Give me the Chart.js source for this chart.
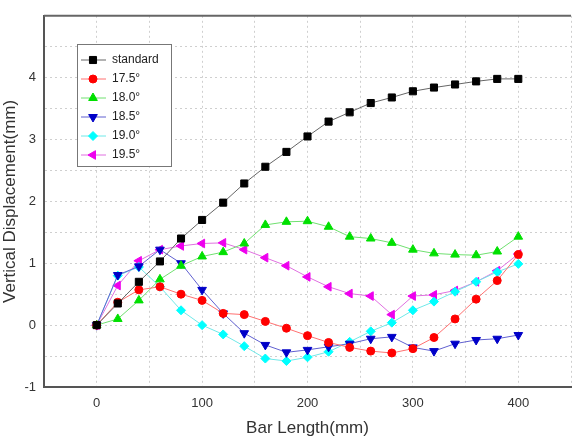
<!DOCTYPE html>
<html>
<head>
<meta charset="utf-8">
<script src="https://cdn.jsdelivr.net/npm/chart.js@4/dist/chart.umd.min.js"></script>
<style>
  html, body { margin: 0; padding: 0; background: #fff; overflow: hidden; }
  #wrap { width: 580px; height: 439px; }
</style>
</head>
<body>
<div id="wrap"><canvas id="grafico" width="580" height="439"></canvas></div>
<script>
// bar length (mm)
var barLength = [0, 20, 40, 60, 80, 100, 120, 140, 160, 180, 200, 220, 240, 260, 280, 300, 320, 340, 360, 380, 400];

// vertical displacement (mm)
var standard = [0, 0.35, 0.70, 1.03, 1.40, 1.70, 1.98, 2.29, 2.56, 2.80, 3.05, 3.29, 3.44, 3.59, 3.68, 3.78, 3.84, 3.89, 3.94, 3.98, 3.98];
var ang175 = [0, 0.37, 0.57, 0.62, 0.50, 0.40, 0.19, 0.17, 0.06, -0.05, -0.17, -0.28, -0.36, -0.42, -0.45, -0.38, -0.20, 0.10, 0.42, 0.72, 1.14];
var ang180 = [0, 0.10, 0.40, 0.74, 0.96, 1.11, 1.18, 1.32, 1.62, 1.67, 1.68, 1.59, 1.43, 1.40, 1.33, 1.22, 1.16, 1.14, 1.13, 1.19, 1.43];
var ang185 = [0, 0.81, 0.95, 1.22, 1.00, 0.57, 0.19, -0.13, -0.32, -0.44, -0.40, -0.35, -0.30, -0.22, -0.19, -0.36, -0.42, -0.30, -0.24, -0.22, -0.16];
var ang190 = [0, 0.80, 0.94, 0.62, 0.24, 0.00, -0.15, -0.34, -0.54, -0.58, -0.52, -0.43, -0.27, -0.10, 0.04, 0.24, 0.38, 0.54, 0.70, 0.86, 0.99];
var ang195 = [0, 0.64, 1.04, 1.22, 1.28, 1.32, 1.33, 1.22, 1.09, 0.96, 0.78, 0.62, 0.51, 0.47, 0.17, 0.47, 0.49, 0.56, 0.70, 0.88, 1.15];

var xTicks = [0, 100, 200, 300, 400];
var yTicks = [-1, 0, 1, 2, 3, 4];

function pontos(valores) {
    return valores.map((v, i) => ({ x: barLength[i], y: v }));
}

function serie(label, valores, cor, corLinha, estilo, rot, raio) {
    return {
        label: label,
        data: pontos(valores),
        borderColor: corLinha,
        borderWidth: 1,
        backgroundColor: cor,
        pointBackgroundColor: cor,
        pointBorderColor: cor,
        pointBorderWidth: 1,
        pointStyle: estilo,
        pointRotation: rot,
        pointRadius: raio,
        tension: 0
    };
}

var fonte = "Arial, 'Liberation Sans', sans-serif";

// legend box inside the plot + top frame line
var legendaBox = {
    id: 'legendaBox',
    afterDraw(chart) {
        var ctx = chart.ctx;
        var area = chart.chartArea;
        ctx.save();
        ctx.strokeStyle = '#666';
        ctx.lineWidth = 2;
        ctx.beginPath();
        ctx.moveTo(area.left, area.top);
        ctx.lineTo(area.right, area.top);
        ctx.stroke();

        var x0 = 77, y0 = 44, w = 94, h = 122;
        ctx.fillStyle = '#fff';
        ctx.fillRect(x0, y0, w, h);
        ctx.strokeStyle = '#777';
        ctx.lineWidth = 1;
        ctx.strokeRect(x0 + 0.5, y0 + 0.5, w, h);

        ctx.font = '12px ' + fonte;
        ctx.textBaseline = 'middle';
        chart.data.datasets.forEach((ds, i) => {
            var y = 60 + i * 19;
            ctx.strokeStyle = ds.borderColor;
            ctx.lineWidth = 1;
            ctx.beginPath();
            ctx.moveTo(81, y);
            ctx.lineTo(106, y);
            ctx.stroke();
            ctx.fillStyle = ds.pointBackgroundColor;
            ctx.strokeStyle = ds.pointBorderColor;
            Chart.helpers.drawPoint(ctx, {
                pointStyle: ds.pointStyle,
                rotation: ds.pointRotation,
                radius: ds.pointRadius,
                borderWidth: 1
            }, 93, y);
            ctx.fillStyle = '#222';
            ctx.fillText(ds.label, 112, y);
        });
        ctx.restore();
    }
};

var grafico = new Chart(document.getElementById('grafico').getContext('2d'), {
    type: 'line',
    data: {
        datasets: [
            serie('standard', standard, '#000000', '#666666', 'rect', 0, 5),
            serie('17.5°', ang175, '#ff0000', '#ff7070', 'circle', 0, 4),
            serie('18.0°', ang180, '#00e000', '#70e070', 'triangle', 0, 5),
            serie('18.5°', ang185, '#0000c8', '#6060d0', 'triangle', 180, 5),
            serie('19.0°', ang190, '#00ffff', '#70e8e8', 'rectRot', 0, 4.5),
            serie('19.5°', ang195, '#ee00ee', '#e070e0', 'triangle', -90, 5)
        ]
    },
    options: {
        responsive: false,
        animation: false,
        layout: { padding: { top: 11, right: 0, left: 0, bottom: 0 } },
        plugins: {
            legend: { display: false },
            tooltip: { enabled: false }
        },
        scales: {
            x: {
                type: 'linear',
                min: -50,
                max: 450,
                afterFit(s) { s.height = 52; },
                border: { display: true, color: '#555', width: 2, dash: [2, 3] },
                grid: { color: '#cfcfcf', drawTicks: false },
                ticks: {
                    stepSize: 50,
                    autoSkip: false,
                    maxRotation: 0,
                    padding: 9,
                    color: '#333',
                    font: { family: fonte, size: 13 },
                    callback: (v) => xTicks.includes(v) ? String(v) : ''
                },
                title: {
                    display: true,
                    text: 'Bar Length(mm)',
                    color: '#333',
                    font: { family: fonte, size: 17 },
                    padding: { top: 0, bottom: 0 }
                }
            },
            y: {
                min: -1,
                max: 5,
                afterFit(s) { s.width = 44; },
                border: { display: true, color: '#555', width: 2, dash: [2, 3] },
                grid: { color: '#cfcfcf', drawTicks: false },
                ticks: {
                    stepSize: 0.5,
                    autoSkip: false,
                    padding: 8,
                    color: '#333',
                    font: { family: fonte, size: 13 },
                    callback: (v) => yTicks.includes(v) ? String(v) : ''
                },
                title: {
                    display: true,
                    text: 'Vertical Displacement(mm)',
                    color: '#333',
                    font: { family: fonte, size: 17 },
                    padding: { top: 0, bottom: 0 }
                }
            }
        }
    },
    plugins: [legendaBox]
});
</script>
</body>
</html>
